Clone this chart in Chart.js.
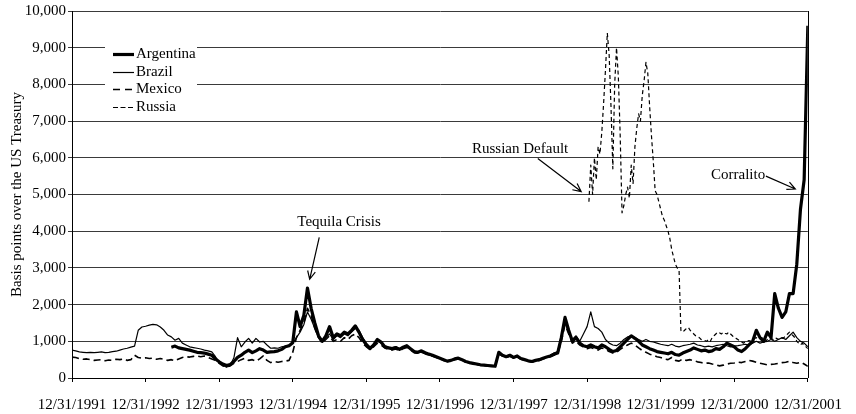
<!DOCTYPE html>
<html>
<head>
<meta charset="utf-8">
<script src="https://cdn.jsdelivr.net/npm/chart.js@4.4.1/dist/chart.umd.min.js"></script>
<style>
  html, body { margin: 0; padding: 0; background: #fff; }
  #wrap { width: 856px; height: 414px; }
</style>
</head>
<body>
<div id="wrap"><canvas id="spreadChart" width="856" height="414"></canvas></div>
<script>
// x axis: years since 12/31/1991
const xLabels = ['12/31/1991', '12/31/1992', '12/31/1993', '12/31/1994', '12/31/1995', '12/31/1996',
                 '12/31/1997', '12/31/1998', '12/31/1999', '12/31/2000', '12/31/2001'];
const seriesNames = ['Argentina', 'Brazil', 'Mexico', 'Russia'];

// readings every 0.05 yr (Russia every 0.025 yr), spread in basis points
const STEP = 0.05;

const argentinaStart = 1.35;
const argentina = [
  840, 870, 820, 800, 780, 760, 730, 700, 690, 680,
  650, 620, 520, 440, 380, 340, 370, 450, 560, 620,
  700, 760, 690, 740, 800, 760, 700, 710, 720, 740,
  780, 850, 880, 960, 1800, 1400, 1700, 2450, 1900, 1500,
  1150, 1000, 1150, 1400, 1100, 1200, 1150, 1250, 1200, 1300,
  1420, 1250, 1050, 900, 800, 900, 1050, 980, 850, 820,
  800, 830, 780, 840, 880, 800, 720, 700, 740, 690,
  650, 620, 580, 540, 500, 460, 480, 520, 540, 500,
  450, 420, 400, 380, 360, 350, 340, 330, 320, 700,
  620, 580, 620, 560, 600, 530, 500, 470, 450, 480,
  500, 540, 570, 600, 650, 680, 1100, 1650, 1300, 1000,
  1100, 950, 880, 850, 900, 850, 820, 900, 850, 780,
  720, 750, 850, 950, 1050, 1150, 1080, 1000, 900, 850,
  800, 760, 720, 700, 680, 660, 700, 640, 620, 680,
  720, 760, 820, 780, 740, 760, 720, 740, 800, 780,
  850, 950, 900, 850, 760, 720, 800, 900, 1000, 1300,
  1100, 1000, 1250, 1100, 2300, 1900, 1650, 1800, 2300, 2300,
  3100, 4600, 5400, 9600
];

const brazilStart = 0;
const brazil = [
  760, 740, 710, 700, 690, 700, 690, 700, 710, 690,
  700, 720, 730, 760, 790, 810, 840, 870, 1300, 1390,
  1410, 1440, 1460, 1450, 1390, 1300, 1170, 1120, 1030, 1080,
  950, 900, 850, 830, 810, 790, 760, 740, 710, 580,
  430, 350, 290, 350, 550, 1100, 850, 980, 1080, 950,
  1080, 980, 1000, 900, 810, 820, 810, 850, 870, 900,
  950, 1100, 1250, 1450, 1800, 1600, 1350, 1100, 1000, 1100,
  1200, 1050, 1150, 1100, 1200, 1150, 1250, 1350, 1300, 1100,
  950, 850, 900, 1000, 950, 880, 840, 820, 850, 800,
  820, 860, 780, 700, 680, 710, 670, 630, 600, 570,
  530, 490, 450, 470, 510, 530, 490, 440, 410, 390,
  370, 350, 340, 330, 320, 315, 680, 610, 570, 600,
  550, 590, 520, 490, 460, 440, 470, 490, 530, 560,
  620, 680, 720, 1150, 1500, 1250, 1050, 1150, 1000, 1200,
  1400, 1800, 1400, 1350, 1250, 1050, 950, 900, 880, 950,
  1050, 1120, 1150, 1100, 1050, 1000, 1050, 1000, 980, 950,
  920, 900, 880, 920, 870, 850, 880, 900, 920, 950,
  900, 880, 850, 870, 850, 880, 900, 920, 880, 850,
  870, 880, 900, 920, 900, 950, 1000, 950, 980, 1000,
  1050, 1000, 1050, 1100, 1050, 1150, 1250, 1100, 1000, 950,
  850
];

const mexicoStart = 0;
const mexico = [
  570, 560, 530, 510, 520, 500, 480, 490, 500, 470,
  490, 480, 510, 500, 520, 480, 500, 620, 560, 540,
  550, 530, 540, 510, 530, 510, 480, 500, 470, 520,
  560, 580, 570, 590, 600, 580, 600, 560, 520, 480,
  400, 330, 300, 330, 400, 450, 500, 540, 480, 500,
  460, 520, 600, 480, 420, 450, 430, 450, 460, 480,
  700, 1100, 1300, 1500, 1900, 1700, 1350, 1100, 950, 1050,
  1150, 1000, 1050, 1000, 1100, 1050, 1150, 1200, 1100, 950,
  850, 780, 850, 950, 900, 820, 780, 760, 790, 740,
  800, 830, 760, 690, 670, 700, 660, 620, 590, 560,
  520, 480, 450, 460, 500, 520, 480, 440, 410, 390,
  370, 350, 340, 330, 320, 310, 650, 600, 560, 590,
  540, 570, 510, 480, 450, 430, 460, 480, 520, 550,
  580, 620, 650, 1000, 1450, 1200, 950, 1000, 900, 850,
  800, 830, 790, 760, 820, 780, 720, 680, 700, 780,
  850, 900, 950, 900, 820, 750, 700, 650, 620, 580,
  560, 520, 500, 560, 480, 460, 520, 480, 500, 470,
  440, 420, 400, 410, 380, 360, 330, 350, 380, 400,
  410, 430, 420, 450, 480, 460, 430, 400, 380, 360,
  370, 380, 400, 420, 430, 460, 420, 400, 430, 380,
  320
];

const russiaStart = 7.025;
const russiaStep = 0.025;
const russia = [
  4800, 5800, 5000, 6000, 5400, 6300, 6100, 6700, 7500, 8400,
  9400, 8800, 7400, 5700, 8000, 9000, 8200, 6600, 4500, 4700,
  5000, 5200, 4900, 5800, 5300, 6300, 6800, 7200, 7000, 7700,
  8100, 8600, 8300, 7400, 6600, 5900, 5100, 5000, 4800, 4600,
  4400, 4300, 4150, 4000, 3800, 3500, 3300, 3100, 3000, 2950,
  1300, 1250, 1300, 1350, 1380, 1300, 1250, 1200, 1150, 1120,
  1100, 1050, 1030, 1020, 1000, 1050, 1000, 1100, 1150, 1200,
  1250, 1230, 1200, 1250, 1220, 1200, 1250, 1200, 1150, 1100,
  1080, 1050, 1000, 980, 950, 980, 1000, 1020, 1000, 1050,
  1080, 1100, 1050, 1080, 1100, 1050, 1000, 1050, 1100, 1080,
  1050, 1100, 1080, 1050, 1100, 1080, 1100, 1150, 1200, 1250,
  1200, 1150, 1100, 1000, 950, 900, 950, 880, 850, 800
];

// annotations, anchored in data units [years, bp]
const notes = [
  { text: 'Tequila Crisis', at: [3.63, 4240], from: [3.36, 3830], to: [3.23, 2690], align: 'center' },
  { text: 'Russian Default', at: [6.09, 6250], from: [6.33, 5980], to: [6.92, 5080], align: 'center' },
  { text: 'Corralito', at: [9.42, 5530], from: [9.43, 5500], to: [9.83, 5150], align: 'right' }
];

function toPoints(start, step, values) {
  return values.map((v, i) => ({ x: +(start + i * step).toFixed(3), y: v }));
}

const FONT = '"Liberation Serif", "Times New Roman", serif';
Chart.defaults.font.family = FONT;
Chart.defaults.font.size = 15;
Chart.defaults.color = '#000';

// right-hand edge of the plot box
const framePlugin = {
  id: 'frame',
  afterDraw(chart) {
    const { ctx, chartArea: a } = chart;
    ctx.save();
    ctx.strokeStyle = '#000';
    ctx.lineWidth = 1;
    ctx.beginPath();
    ctx.moveTo(Math.round(a.right) + 0.5, a.top);
    ctx.lineTo(Math.round(a.right) + 0.5, a.bottom);
    ctx.stroke();
    ctx.restore();
  }
};

// legend box sitting inside the plot, top left
const legendPlugin = {
  id: 'boxLegend',
  afterDatasetsDraw(chart) {
    const { ctx, chartArea: a } = chart;
    const sampleDash = [[], [], [7, 5], [5, 2.5]];
    ctx.save();
    ctx.fillStyle = '#fff';
    ctx.fillRect(a.left + 33, a.top + 32, 92, 74);
    chart.data.datasets.forEach((ds, i) => {
      const y = Math.round(a.top + 43 + i * 17.7) + 0.5;
      ctx.strokeStyle = '#000';
      ctx.lineWidth = ds.borderWidth;
      ctx.setLineDash(sampleDash[i]);
      ctx.beginPath();
      ctx.moveTo(a.left + 41, y);
      ctx.lineTo(a.left + 62, y);
      ctx.stroke();
      ctx.setLineDash([]);
      ctx.fillStyle = '#000';
      ctx.font = '15px ' + FONT;
      ctx.textBaseline = 'middle';
      ctx.textAlign = 'left';
      ctx.fillText(ds.label, a.left + 64, y);
    });
    ctx.restore();
  }
};

const notesPlugin = {
  id: 'notes',
  afterDatasetsDraw(chart) {
    const { ctx } = chart;
    const xs = chart.scales.x, ys = chart.scales.y;
    const px = p => [xs.getPixelForValue(p[0]), ys.getPixelForValue(p[1])];
    ctx.save();
    ctx.strokeStyle = '#000';
    ctx.fillStyle = '#000';
    ctx.lineWidth = 1.2;
    ctx.font = '15px ' + FONT;
    ctx.textBaseline = 'middle';
    notes.forEach(n => {
      const [tx, ty] = px(n.at);
      ctx.textAlign = n.align;
      ctx.fillText(n.text, tx, ty);
      const [x1, y1] = px(n.from);
      const [x2, y2] = px(n.to);
      ctx.beginPath();
      ctx.moveTo(x1, y1);
      ctx.lineTo(x2, y2);
      const ang = Math.atan2(y2 - y1, x2 - x1);
      const len = 9;
      ctx.moveTo(x2 - len * Math.cos(ang - 0.45), y2 - len * Math.sin(ang - 0.45));
      ctx.lineTo(x2, y2);
      ctx.lineTo(x2 - len * Math.cos(ang + 0.45), y2 - len * Math.sin(ang + 0.45));
      ctx.stroke();
    });
    ctx.restore();
  }
};

new Chart(document.getElementById('spreadChart'), {
  type: 'line',
  data: {
    datasets: [
      { label: seriesNames[0], data: toPoints(argentinaStart, STEP, argentina), borderColor: '#000', borderWidth: 3.2 },
      { label: seriesNames[1], data: toPoints(brazilStart, STEP, brazil), borderColor: '#000', borderWidth: 1.2 },
      { label: seriesNames[2], data: toPoints(mexicoStart, STEP, mexico), borderColor: '#000', borderWidth: 1.6, borderDash: [7, 4] },
      { label: seriesNames[3], data: toPoints(russiaStart, russiaStep, russia), borderColor: '#000', borderWidth: 1.2, borderDash: [4, 3] }
    ]
  },
  options: {
    responsive: false,
    animation: false,
    devicePixelRatio: 1,
    locale: 'en-US',
    layout: { padding: { top: 10, right: 40, left: 0, bottom: 0 } },
    elements: {
      point: { radius: 0 },
      line: { tension: 0, borderJoinStyle: 'round', fill: false }
    },
    plugins: { legend: { display: false }, tooltip: { enabled: false } },
    scales: {
      x: {
        type: 'linear',
        min: 0,
        max: 10,
        ticks: { stepSize: 1, padding: 14, maxRotation: 0, autoSkip: false, callback: v => xLabels[Math.round(v)] },
        grid: { drawOnChartArea: false, tickLength: 4, color: '#000' },
        border: { color: '#000', width: 1 },
        afterFit: s => { s.height = 36; }
      },
      y: {
        min: 0,
        max: 10000,
        ticks: { stepSize: 1000, padding: 2 },
        grid: { color: '#3a3a3a', tickLength: 4 },
        border: { color: '#000', width: 1 },
        title: { display: true, text: 'Basis points over the US Treasury', padding: { top: 8, bottom: 0 } },
        afterFit: s => { s.width = 72; }
      }
    }
  },
  plugins: [framePlugin, legendPlugin, notesPlugin]
});
</script>
</body>
</html>
